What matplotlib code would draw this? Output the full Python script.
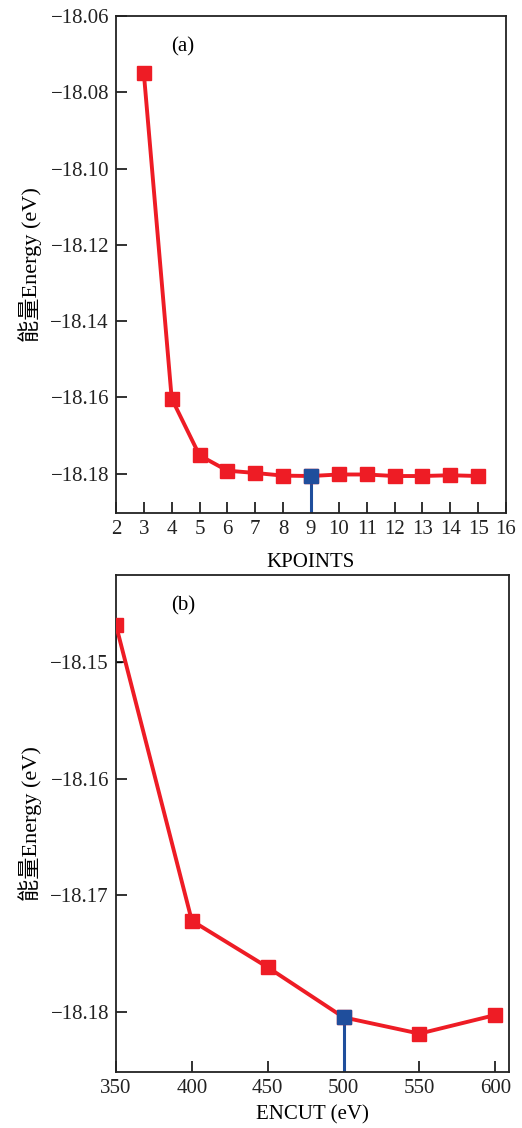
import numpy as np
import matplotlib.pyplot as plt

# (a) KPOINTS convergence
kpoints = [3, 4, 5, 6, 7, 8, 9, 10, 11, 12, 13, 14, 15]
energy_k = [-18.0750, -18.1603, -18.1752, -18.1792, -18.1798, -18.1805, -18.1806,
            -18.1802, -18.1802, -18.1806, -18.1806, -18.1804, -18.1806]
chosen_k = 9

# (b) ENCUT convergence
encut = [350, 400, 450, 500, 550, 600]
energy_e = [-18.1468, -18.1722, -18.1762, -18.1805, -18.1819, -18.1803]
chosen_e = 500

red = "#ee1c25"
blue = "#1f4e9c"
serif = ["Liberation Serif", "Noto Sans CJK SC"]
plt.rcParams["font.family"] = serif

fig = plt.figure(figsize=(5.22, 11.28), dpi=100)
ax1 = fig.add_axes([0.2222, 0.5452, 0.7471, 0.4406])
ax2 = fig.add_axes([0.2222, 0.0496, 0.7528, 0.4406])

minus_fmt = plt.FuncFormatter(lambda v, p: ("\u2212" if v < 0 else "") + "%.2f" % abs(v))


def style(ax):
    for s in ax.spines.values():
        s.set_linewidth(1.3)
        s.set_color("#222222")
    ax.tick_params(direction="in", length=8, width=1.3, labelsize=15,
                   top=False, right=False, pad=5, colors="#222222")
    ax.yaxis.set_major_formatter(minus_fmt)


# panel (a)
ylo1 = -18.1903
ax1.plot(kpoints, energy_k, color=red, lw=2.8, marker="s", ms=9.5, zorder=3)
i = kpoints.index(chosen_k)
ax1.vlines(chosen_k, ylo1, energy_k[i], color=blue, lw=2.2, zorder=2)
ax1.plot([chosen_k], [energy_k[i]], "s", color=blue, ms=9.5, zorder=4)
ax1.set_xlim(2, 16)
ax1.set_ylim(ylo1, -18.06)
ax1.set_xticks(range(2, 17))
ax1.set_yticks(np.arange(-18.18, -18.059, 0.02))
ax1.text(0.172, 0.928, "(a)", transform=ax1.transAxes, fontsize=15, ha="center")
ax1.set_xlabel("KPOINTS", fontsize=15, labelpad=10)
ax1.set_ylabel("能量Energy (eV)", fontsize=16, labelpad=6)
style(ax1)

# panel (b)
ylo2 = -18.1852
ax2.plot(encut, energy_e, color=red, lw=2.8, marker="s", ms=10, zorder=3)
ax2.errorbar([encut[0]], [energy_e[0]], yerr=[[0.0032], [0]], fmt="none",
             ecolor="black", elinewidth=1.2, capsize=4, zorder=2)
j = encut.index(chosen_e)
ax2.vlines(chosen_e, ylo2, energy_e[j], color=blue, lw=2.2, zorder=2)
ax2.plot([chosen_e], [energy_e[j]], "s", color=blue, ms=10, zorder=4)
ax2.set_xlim(350, 609)
ax2.set_ylim(ylo2, -18.1425)
ax2.set_xticks(range(350, 601, 50))
ax2.set_yticks([-18.18, -18.17, -18.16, -18.15])
ax2.text(0.172, 0.928, "(b)", transform=ax2.transAxes, fontsize=15, ha="center")
ax2.set_xlabel("ENCUT (eV)", fontsize=15, labelpad=5)
ax2.set_ylabel("能量Energy (eV)", fontsize=16, labelpad=6)
style(ax2)

fig.savefig("out.png", dpi=100)
